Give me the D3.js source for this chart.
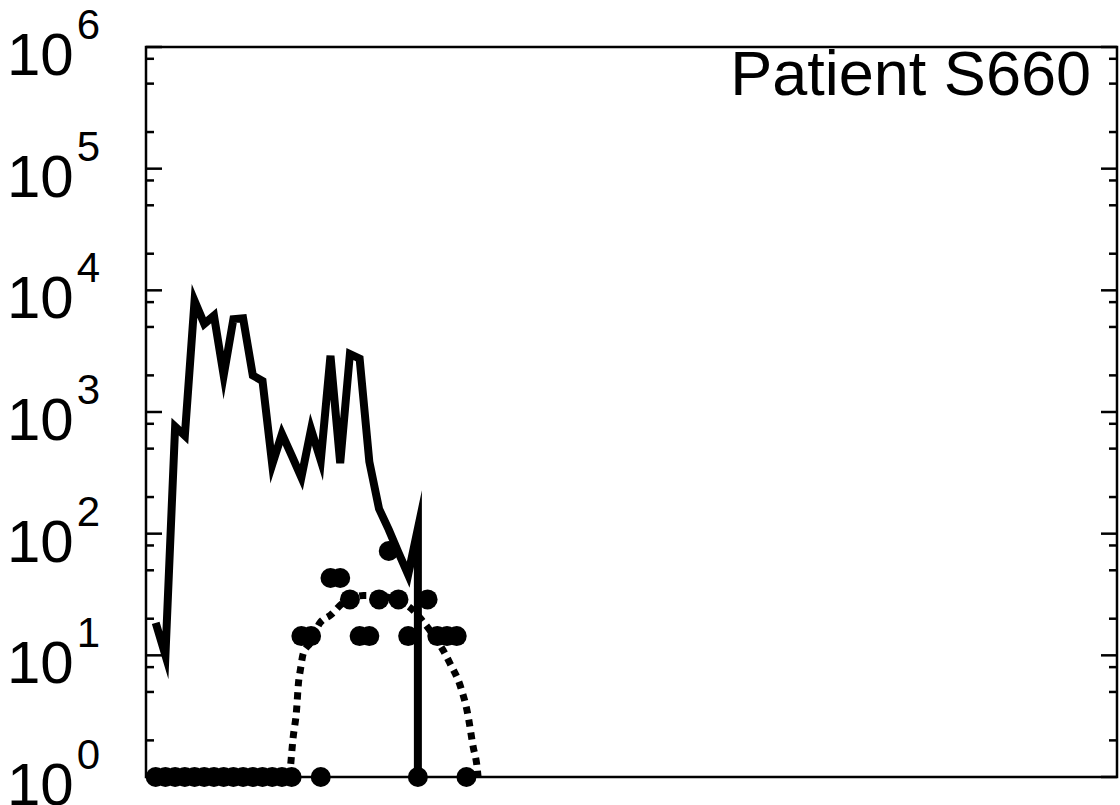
<!DOCTYPE html>
<html>
<head>
<meta charset="utf-8">
<script src="https://cdn.jsdelivr.net/npm/d3@7"></script>
<style>
  body { margin: 0; background: #fff; }
  svg { display: block; }
  text { font-family: "Liberation Sans", Arial, Helvetica, sans-serif; fill: #000; }
</style>
</head>
<body>
<svg id="chart" width="1120" height="805"></svg>
<script>
// Viral load (solid line) by day
const loadDays   = [1, 2, 3, 4, 5, 6, 7, 8, 9, 10, 11, 12, 13, 14, 15, 16, 17, 18, 19, 20, 21, 22, 23, 24, 25, 26, 27, 28, 28];
const loadValues = [18.5, 10, 760, 640, 8200, 5300, 6200, 2000, 5800, 5900, 2000, 1800, 370, 660, 440, 290, 720, 400, 2900, 380, 3000, 2750, 390, 160, 108, 70, 46, 110, 1];

// Measured samples (filled circles); 1 marks an undetected sample on the baseline
const sampleDays   = [1, 2, 3, 4, 5, 6, 7, 8, 9, 10, 11, 12, 13, 14, 15, 16, 17, 18, 19, 20, 21, 22, 23, 24, 25, 26, 27, 28, 29, 30, 31, 32, 33];
const sampleValues = [1, 1, 1, 1, 1, 1, 1, 1, 1, 1, 1, 1, 1, 1, 1, 14.4, 14.4, 1, 43.2, 43.2, 28.8, 14.4, 14.4, 28.8, 72, 28.8, 14.4, 1, 28.8, 14.4, 14.4, 14.4, 1];

// Fitted curve through the samples (dotted)
const fitDays   = [14.8, 15.15, 15.5, 15.7, 15.9, 16.2, 16.9, 17.9, 19.0, 20.3, 22.4, 24.0, 25.5, 27.5, 28.4, 29.5, 30.6, 31.3, 32.4, 33.1, 33.7, 34.1, 34.2];
const fitValues = [1, 2.1, 3.5, 5.9, 7.6, 10.4, 12.6, 18.4, 21.4, 27, 31, 31, 29, 23.5, 19.5, 15, 11, 8.6, 5.5, 3.4, 1.76, 1.2, 1];

// Axis ticks
const decadeTicks = [1, 10, 100, 1e3, 1e4, 1e5, 1e6];
const decadeExponents = ["0", "1", "2", "3", "4", "5", "6"];
const minorMultipliers = [2, 5, 8];
const titleText = "Patient S660";

const svg = d3.select("#chart");
const plotLeft = 146, plotRight = 1117, plotTop = 47, plotBottom = 777;

const x = d3.scaleLinear().domain([0, 100]).range([plotLeft, plotRight]);
const y = d3.scaleLog().domain([1, 1e6]).range([plotBottom, plotTop]);

const minorTicks = [];
decadeTicks.slice(0, -1).forEach(d => minorMultipliers.forEach(m => minorTicks.push(d * m)));

// Frame
svg.append("path")
  .attr("d", `M${plotLeft},${plotTop}H${plotRight}V${plotBottom}H${plotLeft}Z`)
  .attr("fill", "none")
  .attr("stroke", "#000")
  .attr("stroke-width", 2.5);

// Left and right log axes, ticks pointing into the plot
function drawAxis(side) {
  const sign = side === "left" ? 1 : -1;
  const x0 = side === "left" ? plotLeft : plotRight;
  const g = svg.append("g").attr("stroke", "#000").attr("stroke-width", 2.5);
  g.selectAll("line.major").data(decadeTicks).join("line")
    .attr("class", "major")
    .attr("x1", x0).attr("x2", x0 + sign * 16)
    .attr("y1", d => y(d)).attr("y2", d => y(d));
  g.selectAll("line.minor").data(minorTicks).join("line")
    .attr("class", "minor")
    .attr("x1", x0).attr("x2", x0 + sign * 8)
    .attr("y1", d => y(d)).attr("y2", d => y(d));
}
drawAxis("left");
drawAxis("right");

// Tick labels as 10 with a superscript exponent
const labels = svg.append("g");
decadeTicks.forEach((d, i) => {
  const t = labels.append("text")
    .attr("x", 7)
    .attr("y", y(d) + 28)
    .attr("font-size", 60);
  t.append("tspan").text("10");
  t.append("tspan").attr("dx", 3).attr("dy", -36).attr("font-size", 42).text(decadeExponents[i]);
});

// Title inside the top-right corner
svg.append("text")
  .attr("x", 1091)
  .attr("y", 95)
  .attr("text-anchor", "end")
  .attr("font-size", 63)
  .text(titleText);

// Fitted curve
const fitLine = d3.line()
  .x((d, i) => x(fitDays[i]))
  .y(d => y(d))
  .curve(d3.curveMonotoneX);
svg.append("path")
  .datum(fitValues)
  .attr("d", fitLine)
  .attr("fill", "none")
  .attr("stroke", "#000")
  .attr("stroke-width", 7)
  .attr("stroke-dasharray", "7,6");

// Viral load line
const loadLine = d3.line()
  .x((d, i) => x(loadDays[i]))
  .y(d => y(d));
svg.append("path")
  .datum(loadValues)
  .attr("d", loadLine)
  .attr("fill", "none")
  .attr("stroke", "#000")
  .attr("stroke-width", 8)
  .attr("stroke-linejoin", "miter")
  .attr("stroke-miterlimit", 10);

// Samples
svg.append("g").selectAll("circle")
  .data(sampleValues)
  .join("circle")
  .attr("cx", (d, i) => x(sampleDays[i]))
  .attr("cy", d => y(d))
  .attr("r", 10)
  .attr("fill", "#000");
</script>
</body>
</html>
